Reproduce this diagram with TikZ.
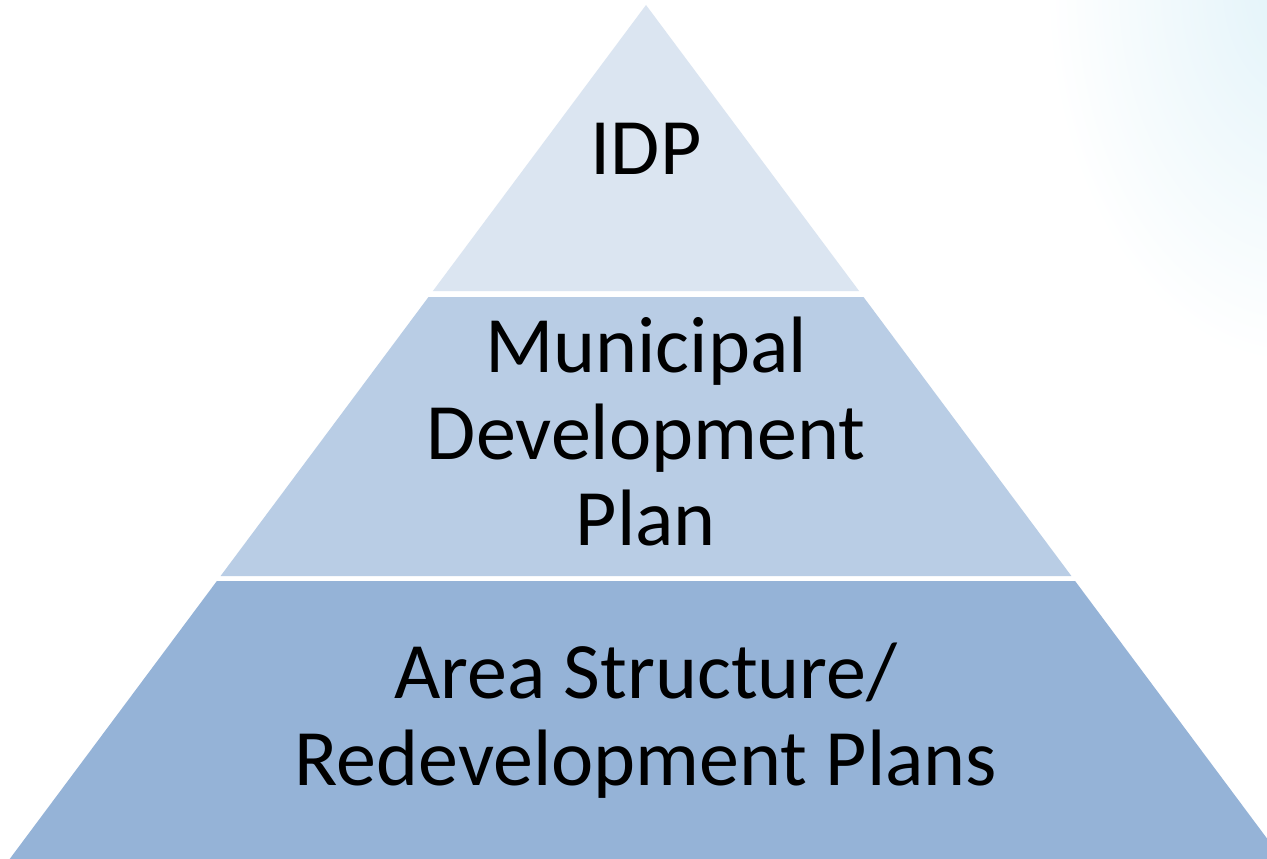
\documentclass[tikz,border=0pt]{standalone}
\usepackage{fontspec}
\setmainfont{Carlito}
\definecolor{lay1}{RGB}{219,229,241}
\definecolor{lay2}{RGB}{185,205,229}
\definecolor{lay3}{RGB}{149,179,215}
\definecolor{glow}{RGB}{226,243,249}
\begin{document}
\begin{tikzpicture}[x=1pt,y=-1pt,
  lbl/.style={anchor=base,inner sep=0pt,font=\fontsize{80}{87}\selectfont,text=black}]
\useasboundingbox (0,0) rectangle (1267,859);
\fill[white] (0,0) rectangle (1267,859);
\begin{scope}
  \clip (0,0) rectangle (1267,859);
  \shade[inner color=glow, outer color=white] (1295,-15) ellipse (250 and 380);
  % layers
  \fill[lay1] (646,5) -- (859.1,291) -- (432.9,291) -- cycle;
  \fill[lay2] (428.5,297) -- (863.5,297) -- (1071.4,576) -- (220.6,576) -- cycle;
  \fill[lay3] (216.9,581) -- (1075.1,581) -- (1290.5,870) -- (1.5,870) -- cycle;
\end{scope}
\node[lbl] (idp) at (646,174) {IDP};
\node[lbl] (mdp1) at (646,372) {Municipal};
\node[lbl] (mdp2) at (646,459) {Development};
\node[lbl] (mdp3) at (646,545) {Plan};
\node[lbl] (asp1) at (646,698) {Area Structure/};
\node[lbl] (asp2) at (646,785) {Redevelopment Plans};
\end{tikzpicture}
\end{document}
